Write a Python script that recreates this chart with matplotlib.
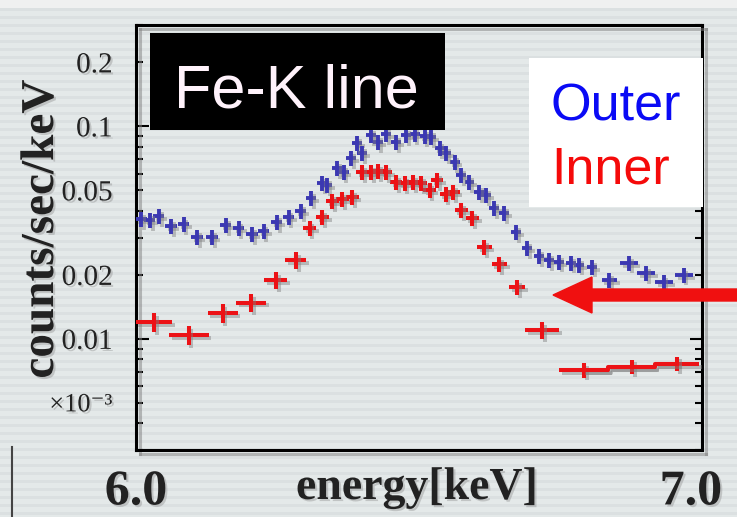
import numpy as np
import matplotlib
matplotlib.use("Agg")
import matplotlib.pyplot as plt
import matplotlib.patheffects as pe
from matplotlib.ticker import LogLocator, FuncFormatter
from matplotlib.patches import Rectangle, FancyArrow
from matplotlib.lines import Line2D

# Outer region spectrum (blue)
blue_energy = [6.009, 6.025, 6.041, 6.063, 6.086, 6.110, 6.137, 6.162, 6.185, 6.209,
               6.230, 6.254, 6.275, 6.297, 6.315, 6.335, 6.345, 6.362, 6.374, 6.388,
               6.399, 6.408, 6.424, 6.437, 6.451, 6.469, 6.487, 6.502, 6.520, 6.532,
               6.547, 6.559, 6.574, 6.586, 6.601, 6.619, 6.631, 6.646, 6.664, 6.685,
               6.705, 6.727, 6.745, 6.763, 6.784, 6.799, 6.822, 6.853, 6.888, 6.919,
               6.951, 6.987]
blue_counts = [0.0366, 0.0362, 0.0378, 0.0339, 0.0347, 0.0301, 0.0301, 0.0343, 0.0332, 0.0311,
               0.0321, 0.0354, 0.0374, 0.0399, 0.0459, 0.0540, 0.0528, 0.0635, 0.0608, 0.0708,
               0.0832, 0.0747, 0.0907, 0.0841, 0.0917, 0.0841, 0.0907, 0.0917, 0.0898, 0.0888,
               0.0788, 0.0747, 0.0678, 0.0589, 0.0546, 0.0490, 0.0474, 0.0412, 0.0391, 0.0318,
               0.0267, 0.0245, 0.0235, 0.0230, 0.0228, 0.0223, 0.0218, 0.0189, 0.0228, 0.0204,
               0.0185, 0.0200]
blue_halfwidth = [0.010] * 14 + [0.009] * 33 + [0.014, 0.016, 0.016, 0.016, 0.016]
blue_relerr = [0.08] * 52

# Inner region spectrum (red)
red_energy = [6.032, 6.095, 6.156, 6.207, 6.252, 6.288, 6.313, 6.336, 6.354, 6.372,
              6.390, 6.408, 6.423, 6.437, 6.451, 6.469, 6.484, 6.500, 6.514, 6.529,
              6.543, 6.558, 6.572, 6.586, 6.606, 6.628, 6.655, 6.687, 6.732, 6.808,
              6.894, 6.975]
red_counts = [0.0120, 0.0104, 0.0132, 0.0148, 0.0189, 0.0235, 0.0332, 0.0374, 0.0445, 0.0454,
              0.0464, 0.0608, 0.0608, 0.0615, 0.0608, 0.0546, 0.0540, 0.0546, 0.0540, 0.0501,
              0.0558, 0.0480, 0.0490, 0.0404, 0.0370, 0.0270, 0.0225, 0.0175, 0.0110, 0.00715,
              0.00739, 0.00764]
red_halfwidth = [0.033, 0.036, 0.027, 0.027, 0.021, 0.019, 0.012, 0.012, 0.011, 0.011,
                 0.011, 0.011, 0.011, 0.011, 0.011, 0.011, 0.011, 0.011, 0.011, 0.011,
                 0.011, 0.011, 0.011, 0.012, 0.012, 0.013, 0.014, 0.014, 0.031, 0.045,
                 0.043, 0.040]
red_relerr = [0.10, 0.10, 0.10, 0.10, 0.09, 0.09] + [0.08] * 22 + [0.09, 0.08, 0.08, 0.08]

ytick_text = {0.2: "0.2", 0.1: "0.1", 0.05: "0.05", 0.02: "0.02", 0.01: "0.01", 0.005: "×10⁻³"}

BLUE = "#3b38b2"
RED = "#ec1216"

plt.rcParams["font.family"] = ["Liberation Serif", "DejaVu Serif"]

W, H = 737, 517
fig = plt.figure(figsize=(W / 100, H / 100), dpi=100)

# striped slide background
bg = np.empty((H, W, 3))
bg[:] = (0.895, 0.915, 0.915)
rows = np.arange(H)
bg[rows % 8 < 3] = (0.862, 0.882, 0.885)
bg[:8] = (0.94, 0.945, 0.945)
fig.figimage(bg, xo=0, yo=0, zorder=-10, origin="upper")
fig.patch.set_facecolor((0.895, 0.915, 0.915))

ax = fig.add_axes([136 / W, 1 - 450 / H, 566 / W, 425 / H])
ax.set_facecolor("none")

shadow = [pe.SimpleLineShadow(offset=(2, -2), shadow_color="gray", alpha=0.45), pe.Normal()]
txt_shadow = [pe.SimplePatchShadow(offset=(1.5, -1.5), shadow_rgbFace="gray", alpha=0.35), pe.Normal()]

for e, c, hw, rel, col, lw in [
    (blue_energy, blue_counts, blue_halfwidth, blue_relerr, BLUE, 2.8),
    (red_energy, red_counts, red_halfwidth, red_relerr, RED, 2.9),
]:
    c = np.array(c)
    cont = ax.errorbar(e, c, xerr=hw, yerr=c * np.array(rel), fmt="none",
                       ecolor=col, elinewidth=lw, capsize=0, zorder=3)
    for lc in cont[2]:
        lc.set_path_effects(shadow)

# step joining the last, wide inner bins
ax.plot(red_energy[-3:], red_counts[-3:], drawstyle="steps-mid", color=RED, lw=2.9,
        zorder=3, path_effects=shadow)

ax.set_yscale("log")
ax.set_ylim(0.003, 0.3)
ax.set_xlim(6.0, 7.02)


def ylab(v, pos):
    for k, s in ytick_text.items():
        if np.isclose(v, k):
            return s
    return ""


ax.yaxis.set_major_locator(LogLocator(base=10, numticks=10))
ax.yaxis.set_minor_locator(LogLocator(base=10, subs=np.arange(2, 10), numticks=10))
ax.yaxis.set_major_formatter(FuncFormatter(ylab))
ax.yaxis.set_minor_formatter(FuncFormatter(ylab))
ax.tick_params(axis="y", which="both", direction="in", left=True, right=True,
               labelsize=21, pad=17, width=1.5, colors="black", labelcolor="#222222")
ax.tick_params(axis="y", which="major", length=9)
ax.tick_params(axis="y", which="minor", length=5)
for t in ax.get_yticklabels(which="both"):
    t.set_path_effects(txt_shadow)
    if t.get_text().startswith("×"):
        t.set_fontsize(19)

ax.set_xticks([6.0, 7.0])
ax.set_xticklabels(["6.0", "7.0"], fontsize=36, fontweight="bold", color="#222222")
ax.tick_params(axis="x", length=0, pad=14)
for t in ax.get_xticklabels():
    t.set_path_effects(txt_shadow)

ax.set_xlabel("energy[keV]", fontsize=33, fontweight="bold", color="#222222",
              path_effects=txt_shadow)
ax.xaxis.set_label_coords(0.497, -0.04)
ax.set_ylabel("counts/sec/keV", fontsize=34, fontweight="bold", color="#222222",
              path_effects=txt_shadow, va="center")
ax.yaxis.set_label_coords(-0.166, 0.52)

for sp in ax.spines.values():
    sp.set_linewidth(2.2)
    sp.set_path_effects([pe.SimpleLineShadow(offset=(3, -3), shadow_color="gray", alpha=0.5),
                         pe.Normal()])

# title box
ax.add_patch(Rectangle((0.0247, 0.753), 0.521, 0.228, transform=ax.transAxes,
                       facecolor="black", edgecolor="none", zorder=6))
ax.text(0.284, 0.807, "Fe-K line", transform=ax.transAxes, ha="center", va="baseline",
        fontsize=44, color="#fff2fb", family="Liberation Sans", zorder=7)

# legend box
ax.add_patch(Rectangle((0.694, 0.572), 0.308, 0.350, transform=ax.transAxes,
                       facecolor="white", edgecolor="none", zorder=6, clip_on=False))
ax.text(0.733, 0.776, "Outer", transform=ax.transAxes, ha="left", va="baseline",
        fontsize=37.5, color="#0a0af5", family="Liberation Sans", zorder=7)
ax.text(0.733, 0.628, "Inner", transform=ax.transAxes, ha="left", va="baseline",
        fontsize=37.5, color="#f50a0a", family="Liberation Sans", zorder=7)

# arrow pointing at the inner spectrum drop
fig.add_artist(FancyArrow(7.45, (H - 295) / 100, -1.92, 0, width=0.12, head_width=0.36,
                          head_length=0.39, length_includes_head=True, color="#f01010",
                          transform=fig.dpi_scale_trans, zorder=8))

# slide edge line at lower left
fig.add_artist(Line2D([12 / W, 12 / W], [0, 1 - 447 / H], transform=fig.transFigure,
                      color="#444444", lw=1.5))

fig.savefig("out.png", dpi=100)
